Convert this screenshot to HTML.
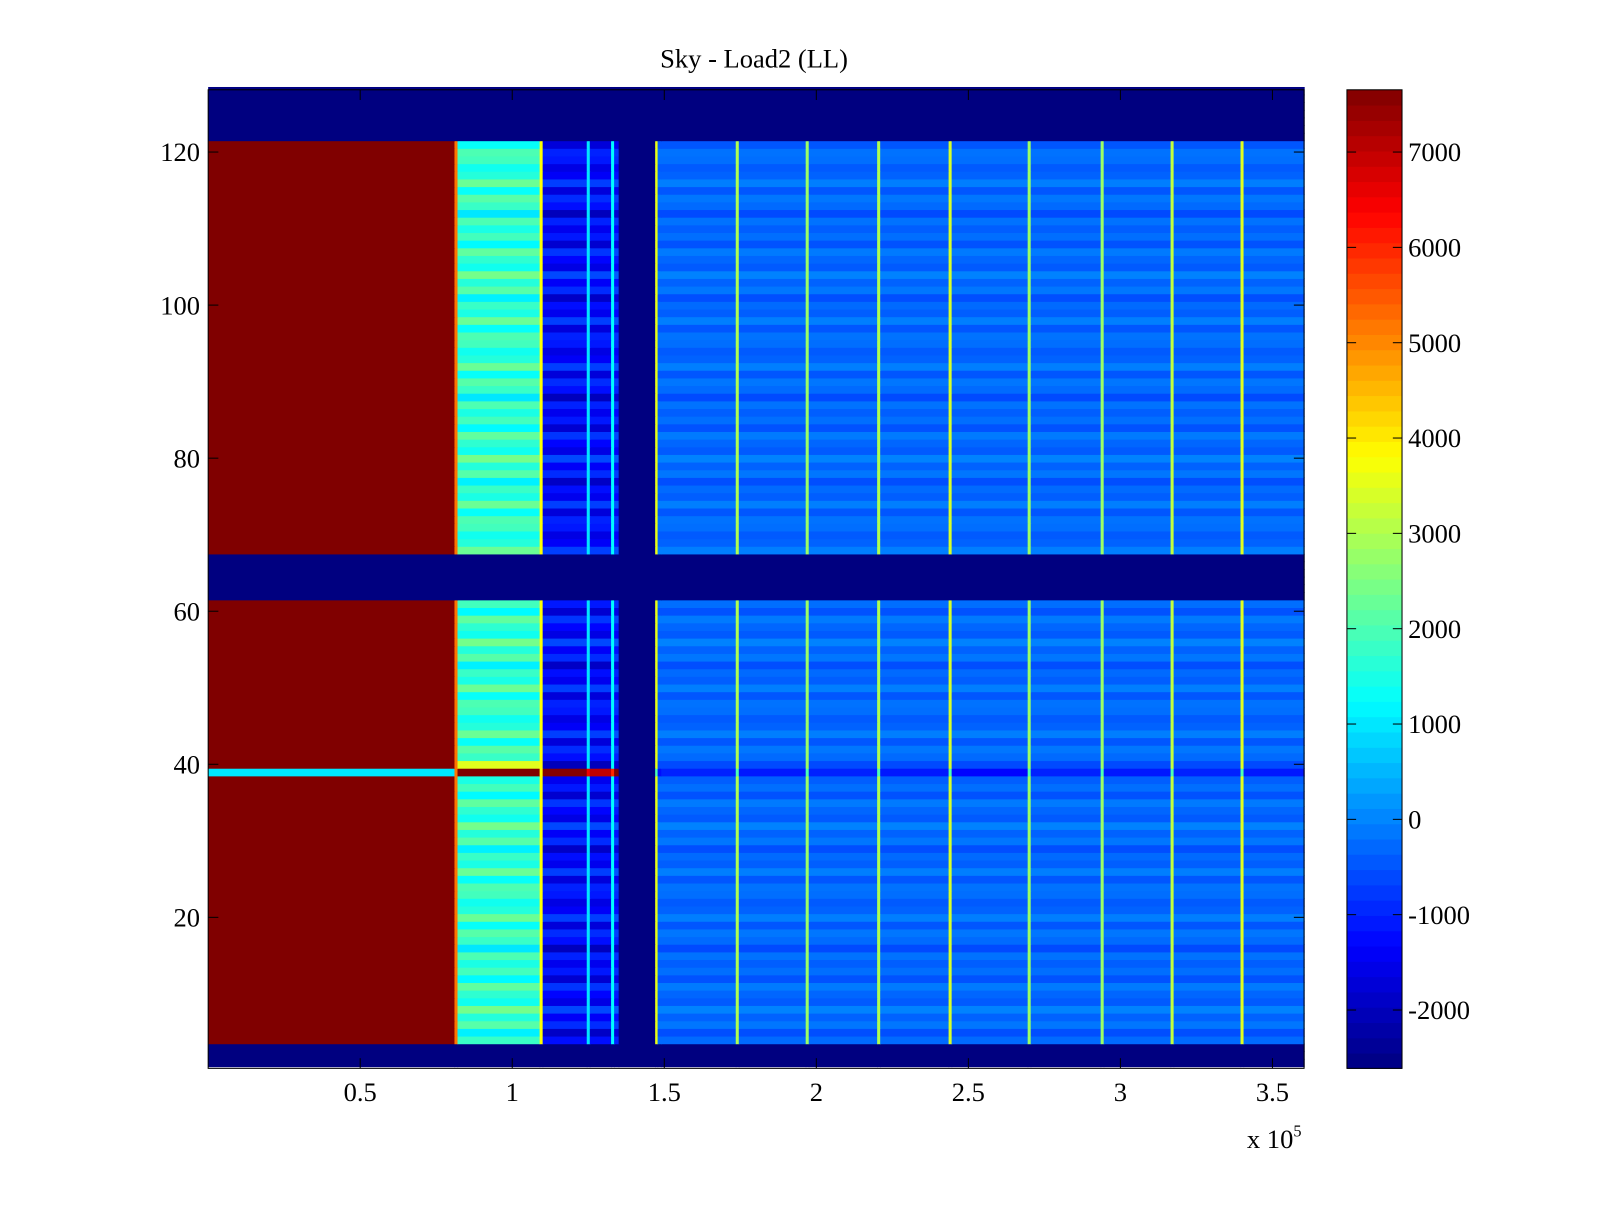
<!DOCTYPE html>
<html><head><meta charset="utf-8"><style>
body{margin:0;background:#fff;}
svg text{font-family:"Liberation Serif",serif;font-size:26px;fill:#000;}
</style></head><body>
<svg id="chart" width="1600" height="1200" xmlns="http://www.w3.org/2000/svg">
<rect width="1600" height="1200" fill="#fff"/>
<g transform="scale(1.0204)">
<text x="739" y="66" text-anchor="middle">Sky - Load2 (LL)</text>
<g id="cells"></g>
<g id="cbar"></g>
<g id="axes"></g>
<text x="1222" y="1125">x 10<tspan dy="-11" font-size="16">5</tspan></text>
</g>
</svg>
<script>
// data (x in units of 1e5, rows 1..128)
const segStart = [0, 0.81, 0.82, 1.09, 1.10, 1.245, 1.255, 1.325, 1.335, 1.35, 1.47, 1.478, 1.49, 1.735, 1.745, 1.965, 1.975, 2.20, 2.21, 2.435, 2.445, 2.695, 2.705, 2.935, 2.945, 3.165, 3.175, 3.395, 3.405];
const segEnd   = [0.81, 0.82, 1.09, 1.10, 1.245, 1.255, 1.325, 1.335, 1.35, 1.47, 1.478, 1.49, 1.735, 1.745, 1.965, 1.975, 2.20, 2.21, 2.435, 2.445, 2.695, 2.705, 2.935, 2.945, 3.165, 3.175, 3.395, 3.405, 3.604];
const segValue = [7653, 5200, 1700, 3800, -1300, 1000, -1300, 1200, -1100, -2612, 3600, -300, -300, 3000, -300, 2800, -300, 3000, -300, 3400, -300, 2800, -300, 2800, -300, 3200, -300, 3500, -300];
const segVaries = [0,0,1,0,1,0,1,0,1,0,0,1,1,0,1,0,1,0,1,0,1,0,1,0,1,0,1,0,1];
const maskedRows = [1,2,3,62,63,64,65,66,67,122,123,124,125,126,127,128];
const rowOffset = [300,-400,600,-200,100,-600,400,-100,700,-300,0,500,-500,200,-200,300,-700,100,400,-400,600,-100,-300,200];
const row39Value = [1000, 5200, 7653, 3800, 7600, 6500, 7000, 6000, 7653, -2612, 2000, -1200, -1000, 2000, -1100, 2000, -1000, 2000, -1100, 2000, -1300, 2000, -1000, 2000, -1100, 2000, -1000, 2000, -1100];
const xTicks = [0.5,1,1.5,2,2.5,3,3.5];
const yTicks = [20,40,60,80,100,120];
const cTicks = [7000,6000,5000,4000,3000,2000,1000,0,-1000,-2000];
const cMin=-2612, cMax=7653;
const X0=204, X1=1278, Y0=88, Y1=1047;
const xs = v => X0 + v/3.604*(X1-X0);
const ys = r => 149 + (120-r)*7.5;
function jet(t){
  t=Math.max(0,Math.min(1,t));
  const f=(a)=>Math.max(0,Math.min(1,1.5-Math.abs(4*t-a)));
  return `rgb(${Math.round(255*f(3))},${Math.round(255*f(2))},${Math.round(255*f(1))})`;
}
const col = v => jet((v-cMin)/(cMax-cMin));
const NS="http://www.w3.org/2000/svg";
function mk(tag, attrs, parent){const e=document.createElementNS(NS,tag);for(const k in attrs)e.setAttribute(k,attrs[k]);parent.appendChild(e);return e;}
const cells=document.getElementById('cells');
for(let r=1;r<=128;r++){
  const y=ys(r)-3.75;
  for(let s=0;s<segStart.length;s++){
    let v;
    if(maskedRows.includes(r)) v=cMin;
    else if(r===39) v=row39Value[s];
    else v=segValue[s]+(segVaries[s]? rowOffset[r%rowOffset.length]*(s<10?1:0.4):0);
    if(r===40 && s===2) v=3500;
    const x=xs(segStart[s]), w=xs(segEnd[s])-x;
    const e=mk('rect',{x:x,y:y,width:w+0.6,height:8.1,fill:col(v)},cells);
    
    
  }
}
// colorbar
const cb=document.getElementById('cbar');
const CB0=1320, CB1=1374;
const cy = v => Y0 + (cMax-v)/(cMax-cMin)*(Y1-Y0);
for(let i=0;i<64;i++){
  const v0=cMin+(cMax-cMin)*i/64, v1=cMin+(cMax-cMin)*(i+1)/64;
  mk('rect',{x:CB0,y:cy(v1),width:CB1-CB0,height:cy(v0)-cy(v1)+0.5,fill:col((v0+v1)/2)},cb);
}
mk('rect',{x:CB0,y:Y0,width:CB1-CB0,height:Y1-Y0,fill:'none',stroke:'#000','stroke-width':1},cb);
cTicks.forEach(t=>{
  const y=cy(t);
  mk('line',{x1:CB0,x2:CB0+9,y1:y,y2:y,stroke:'#000'},cb);
  mk('line',{x1:CB1-9,x2:CB1,y1:y,y2:y,stroke:'#000'},cb);
  const tx=mk('text',{x:CB1+6,y:y+9},cb); tx.textContent=t;
  
  
});
// axes
const ax=document.getElementById('axes');
mk('rect',{x:X0,y:Y0,width:X1-X0,height:Y1-Y0,fill:'none',stroke:'#000','stroke-width':1},ax);
xTicks.forEach(t=>{
  const x=xs(t);
  mk('line',{x1:x,x2:x,y1:Y1,y2:Y1-10,stroke:'#000'},ax);
  mk('line',{x1:x,x2:x,y1:Y0,y2:Y0+10,stroke:'#000'},ax);
  const tx=mk('text',{x:x,y:1079,'text-anchor':'middle'},ax); tx.textContent=t;
  
  
});
yTicks.forEach(t=>{
  const y=ys(t);
  mk('line',{x1:X0,x2:X0+10,y1:y,y2:y,stroke:'#000'},ax);
  mk('line',{x1:X1-10,x2:X1,y1:y,y2:y,stroke:'#000'},ax);
  const tx=mk('text',{x:X0-8,y:y+9,'text-anchor':'end'},ax); tx.textContent=t;
  
  
});
</script>
</body></html>
